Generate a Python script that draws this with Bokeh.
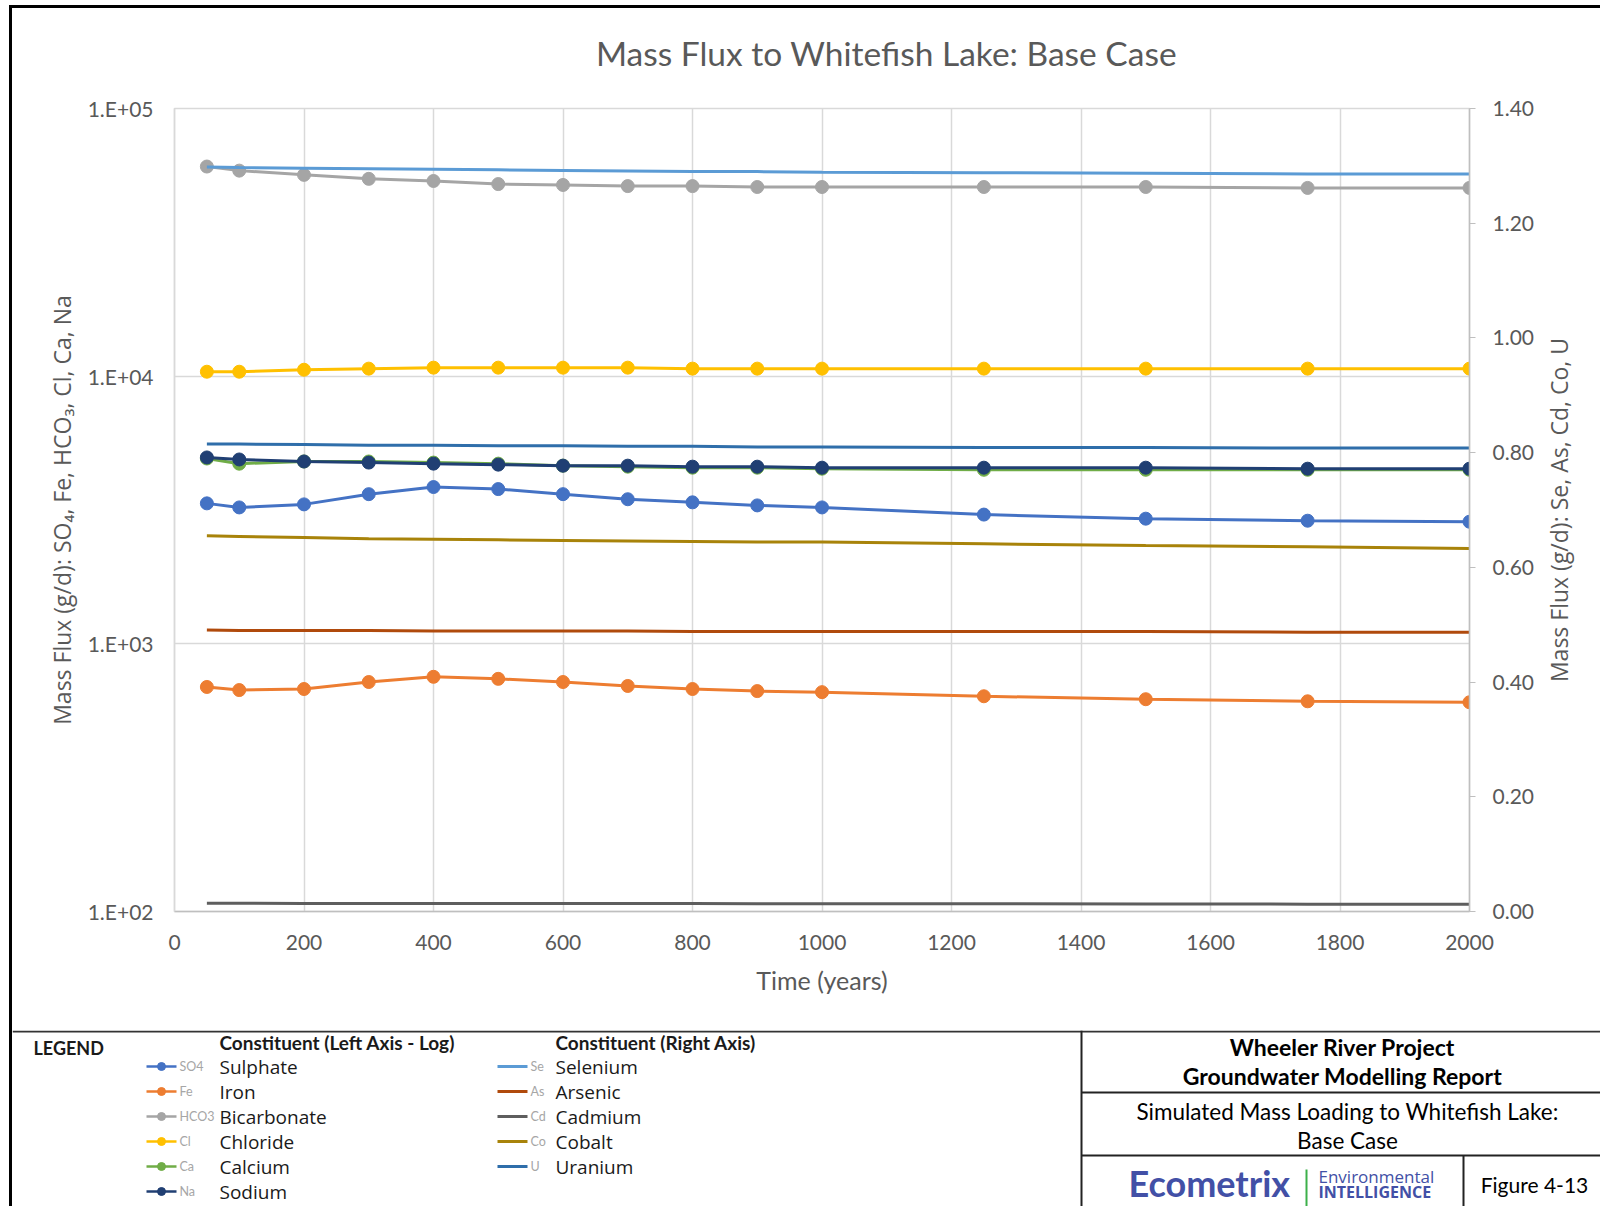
import math
from bokeh.plotting import figure
from bokeh.models import (Range1d, LinearAxis, LinearScale, FixedTicker, NumeralTickFormatter,
                          ColumnDataSource, Spacer)
from bokeh.layouts import column, row
from bokeh.embed import file_html
from bokeh.resources import INLINE
from bokeh.core.properties import value

# ---------------- data ----------------
YEARS = [50, 100, 200, 300, 400, 500, 600, 700, 800, 900, 1000, 1250, 1500, 1750, 2000]

# left axis (log, g/d)
SULPHATE = [3348, 3233, 3319, 3624, 3853, 3786, 3624, 3469, 3378, 3290, 3233, 3040, 2935, 2884, 2859]
IRON = [690, 672, 678, 720, 753, 740, 720, 696, 678, 666, 660, 637, 621, 610, 605]
BICARBONATE = [60700, 58600, 56500, 54600, 53600, 52200, 51800, 51300, 51300, 50900, 50900, 50900, 50900, 50500, 50500]
CHLORIDE = [10390, 10390, 10570, 10670, 10760, 10760, 10760, 10760, 10670, 10670, 10670, 10670, 10670, 10670, 10670]
CALCIUM = [4925, 4710, 4800, 4800, 4755, 4712, 4631, 4591, 4551, 4551, 4512, 4470, 4470, 4470, 4470]
SODIUM = [4970, 4884, 4800, 4755, 4712, 4672, 4631, 4631, 4591, 4591, 4551, 4551, 4551, 4512, 4512]

# right axis (linear, g/d)
SELENIUM = [1.298, 1.297, 1.296, 1.295, 1.294, 1.293, 1.292, 1.291, 1.290, 1.290, 1.289, 1.288, 1.287, 1.286, 1.286]
ARSENIC = [0.491, 0.490, 0.490, 0.490, 0.489, 0.489, 0.489, 0.489, 0.488, 0.488, 0.488, 0.488, 0.488, 0.487, 0.487]
CADMIUM = [0.0142, 0.0142, 0.0141, 0.0141, 0.0140, 0.0140, 0.0139, 0.0139, 0.0138, 0.0137, 0.0136, 0.0134, 0.0131, 0.0128, 0.0125]
COBALT = [0.655, 0.654, 0.652, 0.650, 0.649, 0.648, 0.647, 0.646, 0.645, 0.644, 0.644, 0.641, 0.638, 0.636, 0.633]
URANIUM = [0.815, 0.815, 0.814, 0.813, 0.813, 0.812, 0.812, 0.811, 0.811, 0.810, 0.810, 0.809, 0.809, 0.808, 0.808]

LEFT_SERIES = [SULPHATE, IRON, BICARBONATE, CHLORIDE, CALCIUM, SODIUM]
LEFT_NAMES = ["Sulphate", "Iron", "Bicarbonate", "Chloride", "Calcium", "Sodium"]
LEFT_ABBR = ["SO4", "Fe", "HCO3", "Cl", "Ca", "Na"]
LEFT_COLORS = ["#4472C4", "#ED7D31", "#A5A5A5", "#FFC000", "#70AD47", "#203F73"]

RIGHT_SERIES = [SELENIUM, ARSENIC, CADMIUM, COBALT, URANIUM]
RIGHT_NAMES = ["Selenium", "Arsenic", "Cadmium", "Cobalt", "Uranium"]
RIGHT_ABBR = ["Se", "As", "Cd", "Co", "U"]
RIGHT_COLORS = ["#5B9BD5", "#B04A0C", "#5E5E5E", "#A8830A", "#2F6EAA"]

X_TICKS = [0, 200, 400, 600, 800, 1000, 1200, 1400, 1600, 1800, 2000]
LEFT_TICKS = [100, 1000, 10000, 100000]
LEFT_TICK_LABELS = ["1.E+02", "1.E+03", "1.E+04", "1.E+05"]
RIGHT_TICKS = [0.0, 0.2, 0.4, 0.6, 0.8, 1.0, 1.2, 1.4]

TITLE = "Mass Flux to Whitefish Lake: Base Case"
X_TITLE = "Time (years)"
LEFT_TITLE = "Mass Flux (g/d): SO\u2084, Fe, HCO\u2083, Cl, Ca, Na"
RIGHT_TITLE = "Mass Flux (g/d): Se, As, Cd, Co, U"

GRAY_TXT = "#595959"
W = 1588          # width of the content column (page x 12..1600)
W_CHART = 1528    # chart figure (page x 12..1540)
W_RSTRIP = W - W_CHART   # right title strip (page x 1540..1600)
H_TITLE = 80      # page y 8..88
H_CHART = 942     # page y 88..1030
H_BOT = 176       # page y 1030..1206
FL, FR, FT, FB = 162, 1457, 20, 823   # chart frame edges inside chart figure


def no_align(fig):
    if "frame_align" in fig.properties():
        fig.frame_align = False


def blank(width, height):
    f = figure(width=width, height=height, x_range=Range1d(0, width), y_range=Range1d(height, 0),
               output_backend="svg", toolbar_location=None, min_border=0,
               x_axis_location=None, y_axis_location=None)
    f.grid.visible = False
    f.outline_line_color = None
    no_align(f)
    return f


# ---------------- title strip ----------------
t = blank(W, H_TITLE)
t.text(x=[874], y=[44], text=[TITLE], text_font=value("Lato"), text_font_size=value("33.5px"),
       text_align="center", text_baseline="middle", text_color=GRAY_TXT)

# ---------------- chart figure ----------------
p = figure(width=W_CHART, height=H_CHART, x_range=Range1d(0, 2000), y_range=Range1d(100, 100000),
           y_axis_type="log", output_backend="svg", toolbar_location=None,
           min_border_left=FL, min_border_right=W_CHART - FR, min_border_top=FT,
           min_border_bottom=H_CHART - FB)
no_align(p)
p.extra_y_ranges = {"right": Range1d(0, 1.4)}
p.extra_y_scales = {"right": LinearScale()}

p.outline_line_color = "#D9D9D9"
p.outline_line_width = 1.5

la = p.yaxis[0]
xa = p.xaxis[0]
la.ticker = FixedTicker(ticks=LEFT_TICKS)
la.major_label_overrides = {t_: s for t_, s in zip(LEFT_TICKS, LEFT_TICK_LABELS)}
xa.ticker = FixedTicker(ticks=X_TICKS)

ra = LinearAxis(y_range_name="right", ticker=FixedTicker(ticks=RIGHT_TICKS),
                formatter=NumeralTickFormatter(format="0.00"))
p.add_layout(ra, "right")

for ax in [xa, la, ra]:
    ax.major_tick_out = 0
    ax.major_tick_in = 0
    ax.minor_tick_out = 0
    ax.minor_tick_in = 0
    ax.axis_line_color = "#D9D9D9"
    ax.axis_line_width = 1.5
    ax.major_label_text_font = "Lato"
    ax.major_label_text_font_size = "21px"
    ax.major_label_text_color = GRAY_TXT
    ax.axis_label_text_color = GRAY_TXT
    ax.axis_label_text_font_style = "normal"

la.major_label_standoff = 21
xa.major_label_standoff = 23
xa.axis_line_color = "#BFBFBF"
ra.major_tick_out = 6
ra.major_tick_line_color = "#BFBFBF"
ra.axis_line_color = "#BFBFBF"
ra.major_label_standoff = 17

xa.axis_label = X_TITLE
xa.axis_label_text_font = "Lato"
xa.axis_label_text_font_size = "25px"
xa.axis_label_standoff = 12

la.axis_label = LEFT_TITLE
la.axis_label_text_font = "Open Sans"
la.axis_label_text_font_size = "23px"
la.axis_label_standoff = 7

p.xgrid.grid_line_color = "#D9D9D9"
p.xgrid.grid_line_width = 1.5
p.ygrid.grid_line_color = "#D9D9D9"
p.ygrid.grid_line_width = 1.5

for ys, c in zip(LEFT_SERIES, LEFT_COLORS):
    src = ColumnDataSource(dict(x=YEARS, y=ys))
    p.line("x", "y", source=src, line_color=c, line_width=3)
    p.scatter("x", "y", source=src, marker="circle", size=13, fill_color=c, line_color=c)

for ys, c in zip(RIGHT_SERIES, RIGHT_COLORS):
    src = ColumnDataSource(dict(x=YEARS, y=ys))
    p.line("x", "y", source=src, line_color=c, line_width=3, y_range_name="right")

# right axis title strip (reads bottom-to-top, as in the reference)
r = blank(W_RSTRIP, H_CHART)
r.text(x=[18], y=[(FT + FB) / 2], text=[RIGHT_TITLE], angle=math.pi / 2,
       text_font=value("Open Sans"), text_font_size=value("23px"),
       text_align="center", text_baseline="middle", text_color=GRAY_TXT)

# ---------------- legend / title block ----------------
q = blank(W, H_BOT)

q.segment(x0=[0], y0=[1], x1=[W], y1=[1], line_color="#333333", line_width=2)
q.segment(x0=[1069], y0=[0], x1=[1069], y1=[H_BOT], line_color="#222222", line_width=2)
q.segment(x0=[1069, 1069], y0=[62, 125], x1=[W, W], y1=[62, 125], line_color="#222222", line_width=2)
q.segment(x0=[1451], y0=[125], x1=[1451], y1=[H_BOT], line_color="#222222", line_width=2)

TXT = "#1A1A1A"
q.text(x=[21], y=[17], text=["LEGEND"], text_font=value("Lato"), text_font_style="bold",
       text_font_size=value("18px"), text_baseline="middle", text_color=TXT)
q.text(x=[207, 543], y=[12, 12], text=["Constituent  (Left Axis - Log)", "Constituent  (Right Axis)"],
       text_font=value("Lato"), text_font_style="bold", text_font_size=value("19px"),
       text_baseline="middle", text_color=TXT)

ROW0, ROWSTEP = 36, 25
ly = [ROW0 + i * ROWSTEP for i in range(len(LEFT_NAMES))]
q.segment(x0=[134] * len(ly), y0=ly, x1=[164] * len(ly), y1=ly, line_color=LEFT_COLORS, line_width=2.5)
q.scatter(x=[149] * len(ly), y=ly, marker="circle", size=8, fill_color=LEFT_COLORS, line_color=LEFT_COLORS)
q.text(x=[167] * len(ly), y=ly, text=LEFT_ABBR, text_font=value("Lato"), text_font_size=value("12.5px"),
       text_baseline="middle", text_color="#A6A6A6")
q.text(x=[207] * len(ly), y=ly, text=LEFT_NAMES, text_font=value("Open Sans"), text_font_size=value("19px"),
       text_baseline="middle", text_color=TXT)

ry = [ROW0 + i * ROWSTEP for i in range(len(RIGHT_NAMES))]
q.segment(x0=[485] * len(ry), y0=ry, x1=[515] * len(ry), y1=ry, line_color=RIGHT_COLORS, line_width=3)
q.text(x=[518] * len(ry), y=ry, text=RIGHT_ABBR, text_font=value("Lato"), text_font_size=value("12.5px"),
       text_baseline="middle", text_color="#A6A6A6")
q.text(x=[543] * len(ry), y=ry, text=RIGHT_NAMES, text_font=value("Open Sans"), text_font_size=value("19px"),
       text_baseline="middle", text_color=TXT)

q.text(x=[1330, 1330], y=[16, 45], text=["Wheeler River Project", "Groundwater Modelling Report"],
       text_font=value("Lato"), text_font_style="bold", text_font_size=value("23px"),
       text_align="center", text_baseline="middle", text_color="black")
q.text(x=[1335, 1335], y=[81, 110], text=["Simulated Mass Loading to Whitefish Lake:", "Base Case"],
       text_font=value("Lato"), text_font_size=value("22.5px"),
       text_align="center", text_baseline="middle", text_color="black")
q.text(x=[1522], y=[154], text=["Figure 4-13"], text_font=value("Lato"), text_font_size=value("21px"),
       text_align="center", text_baseline="middle", text_color="black")

q.text(x=[1116], y=[152], text=["Ecometrix"], text_font=value("Lato"), text_font_style="bold",
       text_font_size=value("36px"), text_baseline="middle", text_color="#4250A6")
q.segment(x0=[1294], y0=[139], x1=[1294], y1=[H_BOT], line_color="#3CB04A", line_width=2)
q.text(x=[1306], y=[146], text=["Environmental"], text_font=value("Open Sans"),
       text_font_size=value("17px"), text_baseline="middle", text_color="#4250A6")
q.text(x=[1306], y=[161], text=["INTELLIGENCE"], text_font=value("Open Sans"), text_font_style="bold",
       text_font_size=value("16px"), text_baseline="middle", text_color="#4250A6")

# ---------------- page layout with outer black frame ----------------
BLACK = {"background-color": "black"}
content = column(Spacer(width=W, height=3, styles=BLACK), t, row(p, r, spacing=0), q, spacing=0)
H_ALL = 3 + H_TITLE + H_CHART + H_BOT
page = column(Spacer(width=1600, height=5),
              row(Spacer(width=9, height=H_ALL), Spacer(width=3, height=H_ALL, styles=BLACK), content, spacing=0),
              spacing=0)

open("out.html", "w").write(file_html(page, INLINE))
